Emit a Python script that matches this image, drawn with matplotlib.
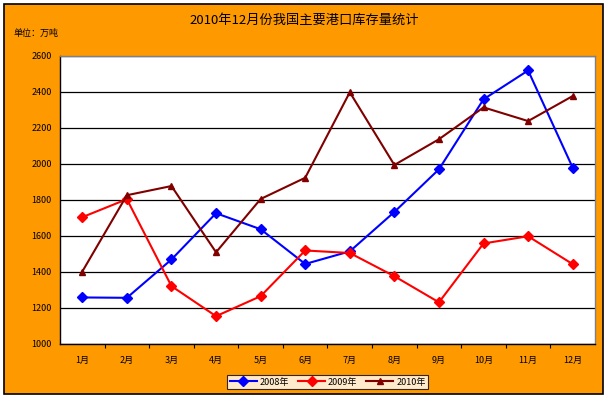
import matplotlib
matplotlib.use("Agg")
import matplotlib.pyplot as plt
from matplotlib.patches import Rectangle

plt.rcParams['font.family'] = ['Noto Sans CJK SC', 'DejaVu Sans']

months = ["1月", "2月", "3月", "4月", "5月", "6月", "7月", "8月", "9月", "10月", "11月", "12月"]
s2008 = [1257, 1255, 1468, 1725, 1636, 1443, 1513, 1732, 1969, 2358, 2518, 1978]
s2009 = [1703, 1803, 1320, 1153, 1264, 1518, 1504, 1375, 1230, 1557, 1597, 1442]
s2010 = [1401, 1825, 1876, 1508, 1804, 1922, 2397, 1993, 2136, 2313, 2237, 2376]
yticks = [1000, 1200, 1400, 1600, 1800, 2000, 2200, 2400, 2600]

bg = "#FF9900"
fig = plt.figure(figsize=(6.08, 3.98), dpi=100, facecolor="white")
# orange chart area with black border, white margin outside
fig.patches.append(Rectangle((4 / 608, 4 / 398), 599 / 608, 390 / 398, transform=fig.transFigure,
                             facecolor=bg, edgecolor="black", lw=1.2, zorder=-10))

ax = fig.add_axes([0.0987, 0.1364, 0.8799, 0.7236])
ax.set_facecolor("white")

x = list(range(len(months)))
ax.plot(x, s2008, color="#0000FF", lw=1.5, marker="D", ms=4.8, label="2008年")
ax.plot(x, s2009, color="#FF0000", lw=1.5, marker="D", ms=4.8, label="2009年")
ax.plot(x, s2010, color="#800000", lw=1.5, marker="^", ms=4.5, label="2010年")

ax.set_xlim(-0.5, len(months) - 0.5)
ax.set_ylim(1000, 2600)
ax.set_yticks(yticks)
ax.set_yticklabels([str(v) for v in yticks], fontsize=6.5)
ax.yaxis.grid(True, color="black", lw=0.9)
ax.set_axisbelow(True)
ax.tick_params(axis="y", length=0, pad=6)

ax.set_xticks([i + 0.5 for i in range(len(months) - 1)])
ax.set_xticklabels([])
ax.set_xticks(x, minor=True)
ax.set_xticklabels(months, minor=True, fontsize=6.5)
ax.tick_params(axis="x", which="major", length=3, direction="out", color="black")
ax.tick_params(axis="x", which="minor", length=0, pad=9)

for side in ["left", "bottom"]:
    ax.spines[side].set_color("black")
    ax.spines[side].set_linewidth(1.0)
for side in ["top", "right"]:
    ax.spines[side].set_color("#808080")
    ax.spines[side].set_linewidth(1.0)

fig.text(0.5, 0.948, "2010年12月份我国主要港口库存量统计", ha="center", va="center", fontsize=9.5)
fig.text(0.022, 0.915, "单位：万吨", ha="left", va="center", fontsize=6.5)

leg = fig.legend(loc="center", bbox_to_anchor=(0.539, 0.040), ncol=3, fontsize=6.5,
                 frameon=True, fancybox=False, edgecolor="black", borderpad=0.3,
                 handlelength=3, columnspacing=1.0, handletextpad=0.3, borderaxespad=0)
leg.get_frame().set_linewidth(0.8)

fig.savefig("out.png", dpi=100, facecolor="white")
